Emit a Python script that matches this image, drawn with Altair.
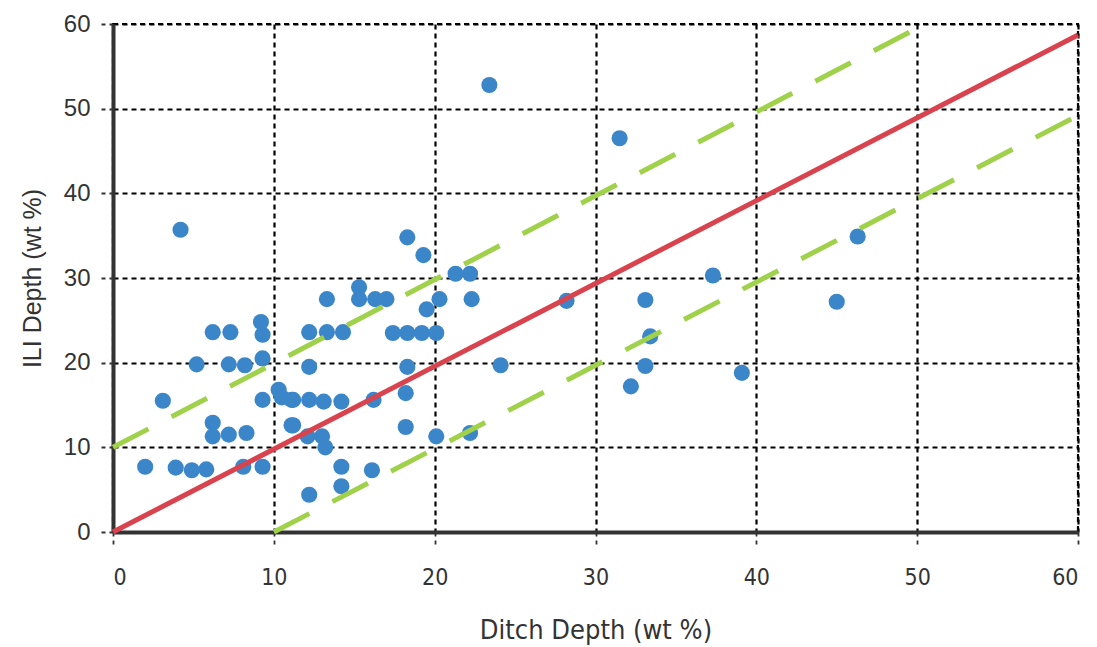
import altair as alt
import pandas as pd

# Scatter data: Ditch depth (x) vs ILI depth (y), wt %
ditch = [4.2, 5.2, 6.2, 7.3, 9.2, 9.3, 7.2, 8.2, 9.3,
         3.1, 6.2, 6.2, 7.2, 8.3, 2.0, 3.9, 4.9, 5.8, 8.1, 9.3,
         9.3, 10.3, 11.1, 11.1,
         18.3, 19.3, 21.3, 22.2, 15.3, 13.3, 15.3, 16.3, 17.0, 20.3, 19.5, 22.3,
         12.2, 13.3, 14.3, 17.4, 18.3, 19.2, 20.1, 12.2, 18.3, 24.1,
         18.2, 10.5, 11.2, 12.2, 13.1, 14.2, 16.2, 11.2, 12.1, 13.0, 13.2,
         18.2, 20.1, 22.2, 14.2, 16.1, 14.2, 12.2,
         23.4, 31.5, 28.2, 33.1, 33.4, 33.1, 32.2, 37.3, 39.1, 45.0, 46.3]
ili = [35.7, 19.8, 23.6, 23.6, 24.8, 23.3, 19.8, 19.7, 20.5,
       15.5, 12.9, 11.3, 11.5, 11.7, 7.7, 7.6, 7.3, 7.4, 7.7, 7.7,
       15.6, 16.8, 15.6, 12.6,
       34.8, 32.7, 30.5, 30.5, 28.9, 27.5, 27.5, 27.5, 27.5, 27.5, 26.3, 27.5,
       23.6, 23.6, 23.6, 23.5, 23.5, 23.5, 23.5, 19.5, 19.5, 19.7,
       16.4, 15.9, 15.6, 15.6, 15.4, 15.4, 15.6, 12.6, 11.3, 11.3, 10.0,
       12.4, 11.3, 11.7, 7.7, 7.3, 5.4, 4.4,
       52.8, 46.5, 27.3, 27.4, 23.1, 19.6, 17.2, 30.3, 18.8, 27.2, 34.9]

# Reference lines
line_x = [0, 60]
line_y = [0, 58.7]
upper_x = [0, 50.5]
upper_y = [10, 60]
lower_x = [10, 60]
lower_y = [0, 49.2]

tick_vals = [0, 10, 20, 30, 40, 50, 60]

pts = pd.DataFrame({"x": ditch, "y": ili})
red = pd.DataFrame({"x": line_x, "y": line_y})
green = pd.concat([
    pd.DataFrame({"x": upper_x, "y": upper_y, "g": "upper"}),
    pd.DataFrame({"x": lower_x, "y": lower_y, "g": "lower"}),
])

xscale = alt.Scale(domain=[0, 60], nice=False, zero=False)
yscale = alt.Scale(domain=[0, 60], nice=False, zero=False)

narrow = "Liberation Sans Narrow, DejaVu Sans Condensed, Liberation Sans, sans-serif"

xaxis = alt.Axis(values=tick_vals, title="Ditch Depth (wt %)", grid=True,
                 gridColor="black", gridDash=[5, 4], gridWidth=2.2, gridOpacity=1,
                 domainColor="#333333", domainWidth=4,
                 tickColor="#333333", tickDash=[4, 4], tickSize=14, tickWidth=1.8,
                 labelFont=narrow, labelFontSize=23, labelColor="#333333",
                 labelPadding=20, titleFont=narrow, titleFontSize=27,
                 titleFontWeight="normal", titleColor="#333333", titlePadding=28)
yaxis = alt.Axis(values=tick_vals, title="ILI Depth (wt %)", grid=True,
                 gridColor="black", gridDash=[5, 4], gridWidth=2.2, gridOpacity=1,
                 domainColor="#333333", domainWidth=4,
                 tickColor="#333333", tickDash=[4, 4], tickSize=13, tickWidth=1.8,
                 labelFont="Liberation Sans, sans-serif", labelFontSize=24, labelColor="#333333",
                 labelPadding=10, titleFont="Liberation Sans, sans-serif", titleFontSize=25,
                 titleFontWeight="normal", titleColor="#333333", titlePadding=18)

base_pts = alt.Chart(pts).mark_circle(size=260, color="#3a86c9", opacity=1).encode(
    x=alt.X("x:Q", scale=xscale, axis=xaxis),
    y=alt.Y("y:Q", scale=yscale, axis=yaxis),
)
green_lines = alt.Chart(green).mark_line(color="#9fd14a", strokeWidth=5, strokeDash=[40, 26]).encode(
    x=alt.X("x:Q", scale=xscale), y=alt.Y("y:Q", scale=yscale), detail="g:N"
)
red_line = alt.Chart(red).mark_line(color="#d8434e", strokeWidth=5).encode(
    x=alt.X("x:Q", scale=xscale), y=alt.Y("y:Q", scale=yscale)
)

chart = alt.layer(base_pts, green_lines, red_line).properties(
    width=965, height=508,
    autosize=alt.AutoSizeParams(type="none"),
    padding={"left": 113, "top": 24, "right": 19, "bottom": 115},
    background="white",
).configure_view(stroke="black", strokeDash=[5, 4], strokeWidth=2.2)

chart.save("out.html", embed_options={"renderer": "svg", "actions": False})
